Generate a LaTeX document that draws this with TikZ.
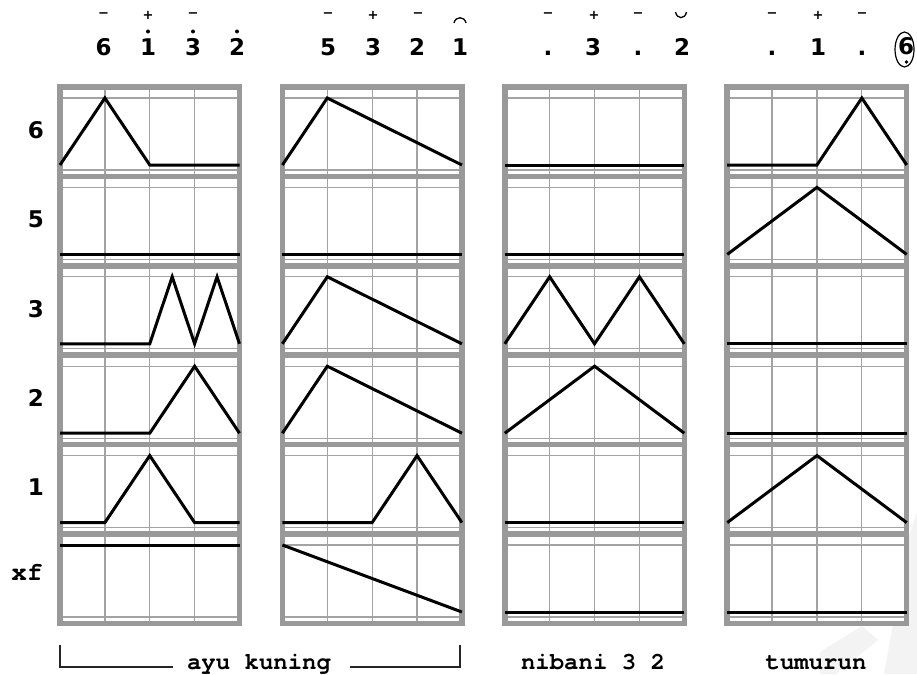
\documentclass[tikz,border=0pt]{standalone}
\usepackage{fontspec}
\newfontfamily\numfont{DejaVu Sans}
\newfontfamily\monofont{TeX Gyre Cursor}
\definecolor{framegray}{HTML}{999999}
\definecolor{gridgray}{HTML}{A3A3A3}
\definecolor{wmgray}{HTML}{F3F3F3}
\tikzset{
  frameline/.style={draw=framegray, line width=5.5pt},
  gridline/.style={draw=gridgray, line width=1.3pt},
  melody/.style={draw=black, line width=3pt, line join=miter},
  numlabel/.style={font=\numfont\bfseries\fontsize{23}{23}\selectfont, inner sep=0pt, anchor=base},
  marklabel/.style={font=\numfont\bfseries\fontsize{13}{13}\selectfont, inner sep=0pt},
  rowlabel/.style={font=\numfont\bfseries\fontsize{23}{23}\selectfont, inner sep=0pt},
  textlabel/.style={font=\monofont\bfseries\fontsize{24}{24}\selectfont, inner sep=0pt, anchor=base},
  bracket/.style={draw=black!85, line width=1.3pt},
  octdot/.style={fill=black, draw=none},
  watermark/.style={fill=wmgray, draw=none},
}
\newcommand\melodyline[3]{%
  \begin{scope}[shift={(#1,{87+#2*89.4})},x=179.5pt,y=-1pt]
    \draw[melody] #3;
  \end{scope}}
\begin{document}
\begin{tikzpicture}[x=1pt,y=-1pt]
\path[use as bounding box, fill=white] (0,0) rectangle (917,674);
% faint watermark strokes (bottom right)
\fill[watermark] (917,512) -- (909,536) -- (884,674) -- (917,674) -- cycle;
\fill[watermark] (820,652) -- (862,626) -- (878,640) -- (836,674) -- (820,674) -- cycle;
\def\W{179.5}
\def\P{89.4}
% ---- panels ----
\foreach \L in {60,282.4,504.8,727.2}{
  \fill[white] (\L,87) rectangle ({\L+\W},623.4);
  \foreach \i in {1,2,3}
    \draw[gridline] ({\L+\i*\W/4},87) -- ({\L+\i*\W/4},623.4);
  \foreach \k in {0,...,5}{
    \draw[gridline] (\L,{87+\k*\P+11}) -- ({\L+\W},{87+\k*\P+11});
    \draw[gridline] (\L,{87+\k*\P+83}) -- ({\L+\W},{87+\k*\P+83});
  }
  \foreach \k in {1,...,5}
    \draw[frameline] (\L,{87+\k*\P}) -- ({\L+\W},{87+\k*\P});
  \draw[frameline] (\L,87) rectangle ({\L+\W},623.4);
}
% ---- melodic contours: B=78 (base), T=11 (top) ----
% column 1: 6 1 3 2
\melodyline{60}{0}{(0,78)--(.25,11)--(.5,78)--(1,78)}
\melodyline{60}{1}{(0,78)--(1,78)}
\melodyline{60}{2}{(0,78)--(.5,78)--(.625,11)--(.75,78)--(.875,11)--(1,78)}
\melodyline{60}{3}{(0,78)--(.5,78)--(.75,11)--(1,78)}
\melodyline{60}{4}{(0,78)--(.25,78)--(.5,11)--(.75,78)--(1,78)}
\melodyline{60}{5}{(0,11)--(1,11)}
% column 2: 5 3 2 1
\melodyline{282.4}{0}{(0,78)--(.25,11)--(1,78)}
\melodyline{282.4}{1}{(0,78)--(1,78)}
\melodyline{282.4}{2}{(0,78)--(.25,11)--(1,78)}
\melodyline{282.4}{3}{(0,78)--(.25,11)--(1,78)}
\melodyline{282.4}{4}{(0,78)--(.5,78)--(.75,11)--(1,78)}
\melodyline{282.4}{5}{(0,11)--(1,78)}
% column 3: . 3 . 2
\melodyline{504.8}{0}{(0,78)--(1,78)}
\melodyline{504.8}{1}{(0,78)--(1,78)}
\melodyline{504.8}{2}{(0,78)--(.25,11)--(.5,78)--(.75,11)--(1,78)}
\melodyline{504.8}{3}{(0,78)--(.5,11)--(1,78)}
\melodyline{504.8}{4}{(0,78)--(1,78)}
\melodyline{504.8}{5}{(0,78)--(1,78)}
% column 4: . 1 . 6
\melodyline{727.2}{0}{(0,78)--(.5,78)--(.75,11)--(1,78)}
\melodyline{727.2}{1}{(0,78)--(.5,11)--(1,78)}
\melodyline{727.2}{2}{(0,78)--(1,78)}
\melodyline{727.2}{3}{(0,78)--(1,78)}
\melodyline{727.2}{4}{(0,78)--(.5,11)--(1,78)}
\melodyline{727.2}{5}{(0,78)--(1,78)}
% ---- row labels ----
\node[rowlabel] (r6) at (36,130) {6};
\node[rowlabel] (r5) at (36,219.4) {5};
\node[rowlabel] (r3) at (36,308.8) {3};
\node[rowlabel] (r2) at (36,398.2) {2};
\node[rowlabel] (r1) at (36,487.6) {1};
\node[textlabel, font=\monofont\bfseries\fontsize{26}{26}\selectfont] (rxf) at (27,580) {xf};
% ---- notation: column 1 ----
\node[marklabel] (m11) at (103.5,15) {−};
\node[marklabel] (m12) at (148,15) {+};
\node[marklabel] (m13) at (193,15) {−};
\node[numlabel] (n11) at (103.5,56) {6};
\node[numlabel] (n12) at (148,56) {1};
\node[numlabel] (n13) at (193,56) {3};
\node[numlabel] (n14) at (237,56) {2};
\fill[octdot] (148,31.5) circle (2);
\fill[octdot] (193,31.5) circle (2);
\fill[octdot] (237,31.5) circle (2);
% ---- column 2 ----
\node[marklabel] (m21) at (328,15) {−};
\node[marklabel] (m22) at (373,15) {+};
\node[marklabel] (m23) at (418,15) {−};
\node[numlabel] (n21) at (328,56) {5};
\node[numlabel] (n22) at (373,56) {3};
\node[numlabel] (n23) at (417,56) {2};
\node[numlabel] (n24) at (460,56) {1};
\draw[line width=1.3pt] (454,23) .. controls (455.5,16) and (464.5,16) .. (466,23);
% ---- column 3 ----
\node[marklabel] (m31) at (548,15) {−};
\node[marklabel] (m32) at (594,15) {+};
\node[marklabel] (m33) at (638,15) {−};
\node[numlabel] (n31) at (548,56) {.};
\node[numlabel] (n32) at (593,56) {3};
\node[numlabel] (n33) at (638,56) {.};
\node[numlabel] (n34) at (682,56) {2};
\draw[line width=1.3pt] (675.5,12) .. controls (677,19.5) and (685,19.5) .. (686.5,12);
% ---- column 4 ----
\node[marklabel] (m41) at (772,15) {−};
\node[marklabel] (m42) at (818,15) {+};
\node[marklabel] (m43) at (862,15) {−};
\node[numlabel] (n41) at (772,56) {.};
\node[numlabel] (n42) at (818,56) {1};
\node[numlabel] (n43) at (862,56) {.};
\node[numlabel] (n44) at (906,55) {6};
\fill[octdot] (906.5,62) circle (1.8);
\draw[line width=1.2pt] (904.5,49.5) ellipse (9.5 and 17.5);
% ---- bottom labels ----
\node[textlabel] (lab1) at (259,669) {ayu kuning};
\node[textlabel] (lab2) at (593,669) {nibani 3 2};
\node[textlabel] (lab3) at (816,669) {tumurun};
\draw[bracket] (60,645) -- (60,667) -- (173,667);
\draw[bracket] (350,667) -- (460,667) -- (460,645);
\end{tikzpicture}
\end{document}
